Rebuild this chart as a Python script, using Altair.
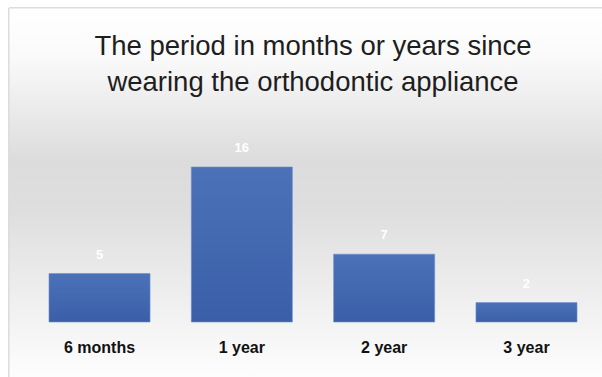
import altair as alt
import pandas as pd

categories = ["6 months", "1 year", "2 year", "3 year"]
counts = [5, 16, 7, 2]
title_lines = ["The period in months or years since", "wearing the orthodontic appliance"]

df = pd.DataFrame({"period": categories, "count": counts})

FONT = "'Liberation Sans', sans-serif"

bg_grad = alt.LinearGradient(
    gradient="linear",
    stops=[
        alt.GradientStop(color="#ffffff", offset=0),
        alt.GradientStop(color="#fafafa", offset=0.12),
        alt.GradientStop(color="#dcdcdc", offset=0.38),
        alt.GradientStop(color="#dedede", offset=0.50),
        alt.GradientStop(color="#fcfcfc", offset=0.90),
        alt.GradientStop(color="#ffffff", offset=1),
    ],
    x1=0, x2=0, y1=0, y2=1,
)

bar_grad = alt.LinearGradient(
    gradient="linear",
    stops=[
        alt.GradientStop(color="#4b72b9", offset=0),
        alt.GradientStop(color="#3a5fa8", offset=1),
    ],
    x1=0, x2=0, y1=0, y2=1,
)

background = alt.Chart(df).mark_rect(
    fill=bg_grad, stroke="#dadada", strokeWidth=1
).encode(
    x=alt.value(-19), x2=alt.value(640),
    y=alt.value(-102), y2=alt.value(300),
)

x_enc = alt.X(
    "period:N", sort=categories, title=None,
    scale=alt.Scale(paddingInner=0.29, paddingOuter=0.1475),
    axis=alt.Axis(
        labelAngle=0, domain=False, ticks=False, grid=False,
        labelFont=FONT, labelFontSize=16, labelFontWeight="bold",
        labelColor="#111111", labelPadding=17, zindex=1,
    ),
)
y_enc = alt.Y(
    "count:Q", title=None,
    scale=alt.Scale(domain=[0, 21.88], nice=False),
    axis=None,
)

bars = alt.Chart(df).mark_bar(
    fill=bar_grad, stroke="#6f8fcb", strokeWidth=0.6
).encode(x=x_enc, y=y_enc)

labels = alt.Chart(df).mark_text(
    color="#ffffff", font=FONT, fontSize=13, fontWeight="bold",
    baseline="middle", dy=-19,
).encode(x=alt.X("period:N", sort=categories), y=alt.Y("count:Q"), text="count:Q")

chart = alt.layer(background, bars, labels).properties(
    width=570, height=212,
    autosize=alt.AutoSizeParams(type="none"),
    padding={"left": 28, "top": 110, "right": 4, "bottom": 55},
    title=alt.Title(
        title_lines, anchor="middle", frame="group",
        font=FONT, fontSize=27.5, fontWeight="normal", color="#1e1e1e",
        lineHeight=36, offset=-89, zindex=1,
    ),
).configure_view(stroke=None).configure(background="#ffffff")

chart.save("out.html", embed_options={"renderer": "svg", "actions": False})
